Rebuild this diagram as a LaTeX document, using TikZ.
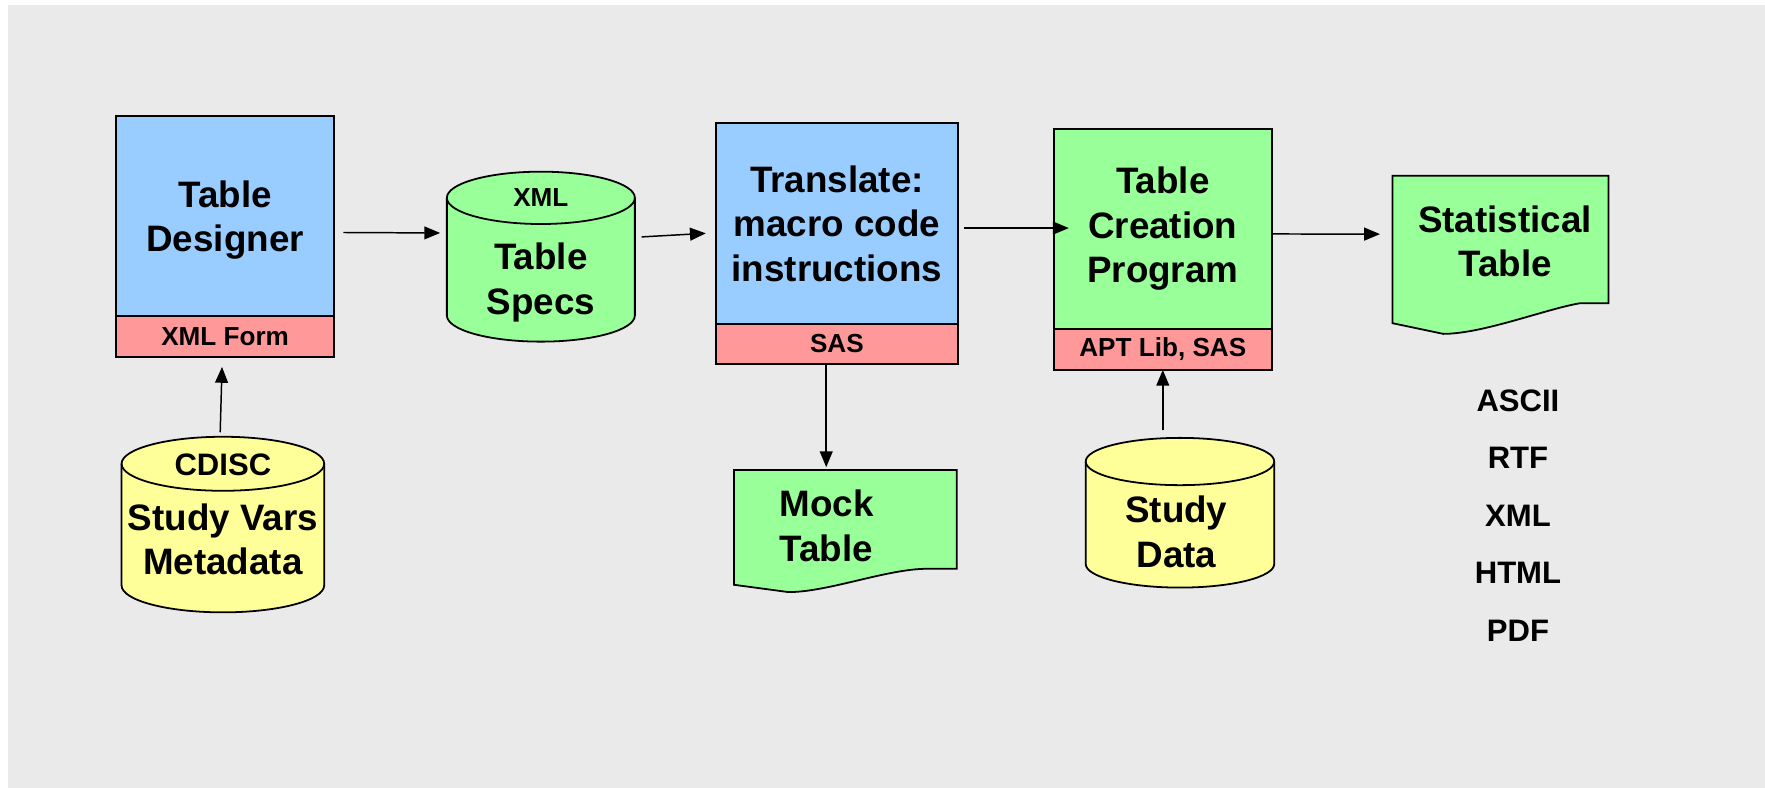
\documentclass[tikz,border=0pt]{standalone}
\usepackage{fontspec}
\setmainfont{Liberation Sans}
\usetikzlibrary{positioning,arrows.meta}
\definecolor{bggrey}{HTML}{EAEAEA}
\definecolor{boxblue}{HTML}{99CCFF}
\definecolor{barpink}{HTML}{FF9999}
\definecolor{docgreen}{HTML}{99FF99}
\definecolor{dbyellow}{HTML}{FFFF99}
\tikzset{
  bigtxt/.style={font=\fontsize{18.6}{22.5}\selectfont\bfseries, align=center},
  smalltxt/.style={font=\fontsize{13.2}{16}\selectfont\bfseries},
  topbox/.style={draw, line width=1pt, inner sep=0pt, outer sep=0pt, bigtxt},
  bar/.style={draw, fill=barpink, line width=1pt, inner sep=0pt, outer sep=0pt, smalltxt},
  frame/.style={inner sep=0pt, outer sep=0pt},
  outline/.style={draw, line width=0.9pt},
  arrow/.style={-{Triangle[length=8pt,width=6.5pt]}, line width=0.75pt},
}
\begin{document}
\begin{tikzpicture}
  \useasboundingbox (0,0) rectangle (31.36,-14);
  \fill[bggrey] (0.14,-0.09) rectangle (31.36,-14);

  % top row
  \node (designer) at (4.0,-3.84) [topbox, fill=boxblue, text depth=0pt, minimum width=3.88cm, minimum height=3.56cm] {Table\\Designer};
  \node (xmlform) [bar, below=0pt of designer, minimum width=3.88cm, minimum height=0.72cm] {XML Form};

  \node (specs) at (9.61,-4.56) [frame, minimum width=3.34cm, minimum height=3.02cm] {};
  \draw[outline, fill=docgreen] ([yshift=-0.465cm]specs.north west) -- ([yshift=0.465cm]specs.south west)
      arc[start angle=180, end angle=360, x radius=1.67cm, y radius=0.465cm]
      -- ([yshift=-0.465cm]specs.north east)
      arc[start angle=0, end angle=180, x radius=1.67cm, y radius=0.465cm] -- cycle;
  \draw[outline] ([yshift=-0.465cm]specs.north west) arc[start angle=180, end angle=360, x radius=1.67cm, y radius=0.465cm];
  \node (specstag) at (9.61,-3.51) [smalltxt] {XML};
  \node (specstext) at (9.61,-5.02) [bigtxt] {Table\\Specs};

  \node (translate) at (14.87,-3.975) [topbox, fill=boxblue, minimum width=4.3cm, minimum height=3.57cm] {Translate:\\macro code\\instructions};
  \node (sas) [bar, below=0pt of translate, minimum width=4.3cm, minimum height=0.7cm] {SAS};

  \node (creation) at (20.66,-4.067) [topbox, fill=docgreen, minimum width=3.88cm, minimum height=3.55cm] {Table\\Creation\\Program};
  \node (apt) [bar, below=0pt of creation, minimum width=3.88cm, minimum height=0.73cm] {APT Lib, SAS};

  \node (stat) at (26.66,-4.527) [frame, minimum width=3.84cm, minimum height=2.81cm] {};
  \draw[outline, fill=docgreen] (stat.north west) -- (stat.north east) -- ([yshift=0.544cm]stat.south east)
      -- ([xshift=-0.508cm,yshift=0.544cm]stat.south east)
      .. controls ([xshift=-1.108cm,yshift=0.444cm]stat.south east) and ([xshift=-2.236cm]stat.south east) .. ([xshift=-2.936cm]stat.south east)
      -- ([yshift=0.19cm]stat.south west) -- cycle;
  \node (stattext) at (26.74,-4.29) [bigtxt] {Statistical\\Table};

  \node (formats) at (26.97,-9.16) [font=\fontsize{15.7}{29.1}\selectfont\bfseries, align=center] {ASCII\\RTF\\XML\\HTML\\PDF};

  % bottom row
  \node (cdisc) at (3.96,-9.32) [frame, minimum width=3.6cm, minimum height=3.12cm] {};
  \draw[outline, fill=dbyellow] ([yshift=-0.48cm]cdisc.north west) -- ([yshift=0.48cm]cdisc.south west)
      arc[start angle=180, end angle=360, x radius=1.8cm, y radius=0.48cm]
      -- ([yshift=-0.48cm]cdisc.north east)
      arc[start angle=0, end angle=180, x radius=1.8cm, y radius=0.48cm] -- cycle;
  \draw[outline] ([yshift=-0.48cm]cdisc.north west) arc[start angle=180, end angle=360, x radius=1.8cm, y radius=0.48cm];
  \node (cdisctag) at (3.96,-8.26) [font=\fontsize{15.7}{18}\selectfont\bfseries] {CDISC};
  \node (cdisctext) at (3.96,-9.58) [bigtxt] {Study Vars\\Metadata};

  \node (mock) at (15.02,-9.435) [frame, minimum width=3.96cm, minimum height=2.17cm] {};
  \draw[outline, fill=docgreen] (mock.north west) -- (mock.north east) -- ([yshift=0.414cm]mock.south east)
      -- ([xshift=-0.534cm,yshift=0.414cm]mock.south east)
      .. controls ([xshift=-1.234cm,yshift=0.414cm]mock.south east) and ([xshift=-2.29cm]mock.south east) .. ([xshift=-2.99cm]mock.south east)
      -- ([yshift=0.13cm]mock.south west) -- cycle;
  \node (mocktext) at (13.73,-9.34) [bigtxt, anchor=west, align=left] {Mock\\Table};

  \node (studydata) at (20.965,-9.11) [frame, minimum width=3.35cm, minimum height=2.66cm] {};
  \draw[outline, fill=dbyellow] ([yshift=-0.42cm]studydata.north west) -- ([yshift=0.42cm]studydata.south west)
      arc[start angle=180, end angle=360, x radius=1.675cm, y radius=0.42cm]
      -- ([yshift=-0.42cm]studydata.north east)
      arc[start angle=0, end angle=180, x radius=1.675cm, y radius=0.42cm] -- cycle;
  \draw[outline] ([yshift=-0.42cm]studydata.north west) arc[start angle=180, end angle=360, x radius=1.675cm, y radius=0.42cm];
  \node (studytext) at (20.9,-9.45) [bigtxt] {Study\\Data};

  % connectors
  \draw[arrow, shorten <=0.16cm, shorten >=0.12cm] ([yshift=-0.29cm]designer.east) -- ([yshift=0.42cm]specs.west);
  \draw[arrow, shorten <=0.12cm, shorten >=0.18cm] ([yshift=0.344cm]specs.east) -- ([yshift=-0.16cm]translate.west);
  \draw[arrow, shorten <=0.10cm, shorten >=-0.27cm] ([yshift=-0.077cm]translate.east) -- ([yshift=0.015cm]creation.west);
  \draw[arrow, shorten >=0.22cm] ([yshift=-0.09cm]creation.east) -- ([yshift=0.367cm]stat.west);
  \draw[arrow, shorten <=0.08cm, shorten >=0.18cm] ([xshift=-0.05cm]cdisc.north) -- ([xshift=-0.05cm]xmlform.south);
  \coordinate (sasfoot) at ([xshift=-0.19cm]sas.south);
  \draw[arrow, shorten >=0.05cm] (sasfoot) -- (sasfoot |- mock.north);
  \draw[arrow, shorten <=0.14cm] (studydata.north -| apt.south) -- (apt.south);
\end{tikzpicture}
\end{document}
